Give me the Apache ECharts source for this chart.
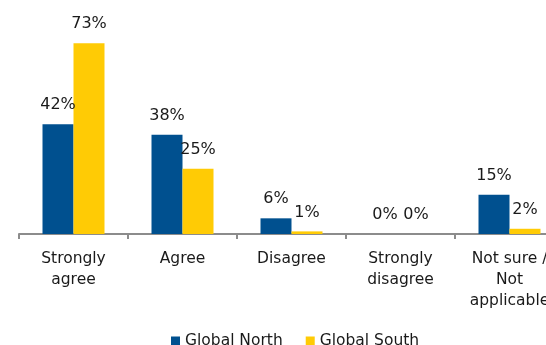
<!DOCTYPE html>
<html>
<head>
<meta charset="utf-8">
<script src="https://cdn.jsdelivr.net/npm/echarts@6/dist/echarts.min.js"></script>
<style>
  html, body { margin: 0; padding: 0; background: #fff; }
  #chart { width: 546px; height: 345px; }
</style>
</head>
<body>
<div id="chart"></div>
<script>
// Survey responses by region (% of respondents)
const categories = ['Strongly\nagree', 'Agree', 'Disagree', 'Strongly\ndisagree', 'Not sure /\nNot\napplicable'];
const globalNorth = [42, 38, 6, 0, 15];
const globalSouth = [73, 25, 1, 0, 2];
const seriesNames = ['Global North', 'Global South'];
const colors = ['#00508f', '#ffcb05'];

const font = 'DejaVu Sans, Verdana, sans-serif';

const chart = echarts.init(document.getElementById('chart'), null, { renderer: 'canvas' });

function barSeries(name, data, color) {
  return {
    name: name,
    type: 'bar',
    data: data,
    barWidth: 31,
    barGap: '0%',
    itemStyle: { color: color },
    label: {
      show: true,
      position: 'top',
      distance: 11,
      formatter: '{c}%',
      color: '#1a1a1a',
      fontFamily: font,
      fontSize: 16
    }
  };
}

chart.setOption({
  animation: false,
  color: colors,
  grid: { left: 19, top: 25, width: 545, height: 209, outerBoundsMode: 'none', containLabel: false },
  legend: {
    data: seriesNames,
    top: 328,
    left: 166,
    itemWidth: 9,
    itemHeight: 9,
    itemGap: 23,
    icon: 'rect',
    textStyle: { fontFamily: font, fontSize: 15.5, color: '#1a1a1a' }
  },
  xAxis: {
    type: 'category',
    data: categories,
    axisLine: { lineStyle: { color: '#8c8c8c', width: 2 } },
    axisTick: { show: true, length: 5, lineStyle: { color: '#8c8c8c', width: 2 } },
    axisLabel: {
      interval: 0,
      margin: 14,
      color: '#1a1a1a',
      fontFamily: font,
      fontSize: 15.5,
      lineHeight: 21
    }
  },
  yAxis: {
    type: 'value',
    min: 0,
    max: 80,
    show: false
  },
  series: [
    barSeries(seriesNames[0], globalNorth, colors[0]),
    barSeries(seriesNames[1], globalSouth, colors[1])
  ]
});
</script>
</body>
</html>
